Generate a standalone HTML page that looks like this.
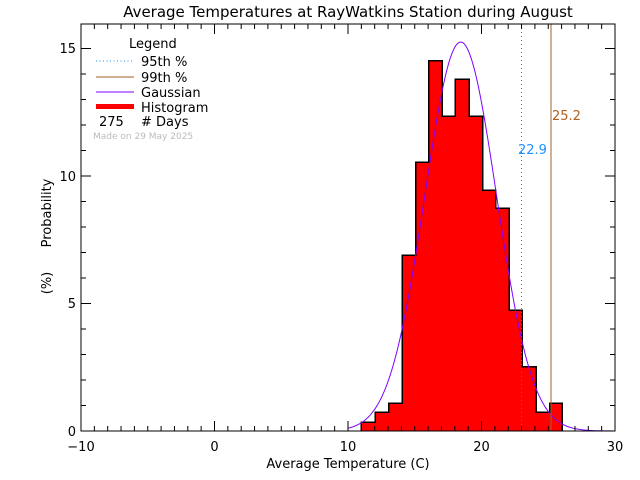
<!DOCTYPE html>
<html><head><style>
html,body{margin:0;padding:0;background:#fff;}
svg{display:block;font-family:"DejaVu Sans","Liberation Sans",sans-serif;}
</style></head><body>
<svg id="s" width="640" height="480" xmlns="http://www.w3.org/2000/svg">
<rect width="640" height="480" fill="#fff"/>
<text x="348" y="17" font-size="15" text-anchor="middle">Average Temperatures at RayWatkins Station during August</text>
<g id="bars" shape-rendering="crispEdges"></g>
<path id="gauss" fill="none" stroke="#8000ff" stroke-width="1"/>
<line x1="521.5" y1="24" x2="521.5" y2="431" stroke="#8b6a4a" stroke-width="1" stroke-dasharray="1,3"/>
<line x1="551" y1="24" x2="551" y2="431" stroke="#a0602a" stroke-width="1"/>
<text x="518" y="154" font-size="13" fill="#1e90ff">22.9</text>
<text x="552" y="120" font-size="13" fill="#b06020">25.2</text>
<g id="axes" stroke="#000" stroke-width="1" fill="none"></g>
<g font-size="13" text-anchor="middle">
<text x="81" y="451">−10</text><text x="214.5" y="451">0</text><text x="348" y="451">10</text><text x="481.5" y="451">20</text><text x="615" y="451">30</text>
</g>
<g font-size="13" text-anchor="end">
<text x="76" y="436">0</text><text x="76" y="308">5</text><text x="76" y="181">10</text><text x="76" y="53">15</text>
</g>
<text x="348" y="468" font-size="13" text-anchor="middle">Average Temperature (C)</text>
<text transform="translate(51,213) rotate(-90)" font-size="13" text-anchor="middle">Probability</text>
<text transform="translate(51,283) rotate(-90)" font-size="13" text-anchor="middle">(%)</text>
<g font-size="13">
<text x="129" y="48">Legend</text>
<line x1="96" y1="61" x2="134" y2="61" stroke="#1e90ff" stroke-dasharray="1,2.5"/>
<text x="141" y="66">95th %</text>
<line x1="96" y1="77" x2="134" y2="77" stroke="#a0602a"/>
<text x="141" y="82">99th %</text>
<line x1="96" y1="92" x2="134" y2="92" stroke="#8000ff"/>
<text x="141" y="97">Gaussian</text>
<rect x="96" y="104" width="38" height="5" fill="#f00"/>
<text x="141" y="112">Histogram</text>
<text x="99" y="126">275</text>
<text x="141" y="126"># Days</text>
<text x="93" y="139" font-size="9" fill="#bbb">Made on 29 May 2025</text>
</g>
</svg>
<script>
var NS="http://www.w3.org/2000/svg";
var edges=[361,375,388.7,402.3,415.7,428.7,442,455.3,469.3,482.7,495.7,509.3,522.3,536.3,549.7,562.3];
var tops=[422.3,412.3,403.3,255,162.3,60.7,116.3,79.3,116.3,190.3,208.3,310,366.7,412.3,403.3];
var g=document.getElementById('bars');var d="M"+edges[0]+" 431";
for(var i=0;i<tops.length;i++){var r=document.createElementNS(NS,'rect');r.setAttribute('x',edges[i]);r.setAttribute('y',tops[i]);r.setAttribute('width',edges[i+1]-edges[i]+0.6);r.setAttribute('height',431-tops[i]);r.setAttribute('fill','#f00');g.appendChild(r);
d+=" L"+edges[i]+" "+tops[i]+" L"+edges[i+1]+" "+tops[i];}
d+=" L"+edges[edges.length-1]+" 431";
var p=document.createElementNS(NS,'path');p.setAttribute('d',d);p.setAttribute('fill','none');p.setAttribute('stroke','#000');p.setAttribute('stroke-width','1.5');g.appendChild(p);
var gd="";for(var x=348;x<=615;x+=1){var y=431-389*Math.exp(-Math.pow(x-460.7,2)/(2*35.8*35.8));gd+=(x==348?"M":"L")+x+" "+y.toFixed(1)+" ";}
document.getElementById('gauss').setAttribute('d',gd);
var a=document.getElementById('axes');var s='<rect x="81" y="24" width="534" height="407"/>';
for(var v=-10;v<=30;v++){var x=81+(v+10)*13.35;var L=(v%10==0)?10:5;s+='<line x1="'+x+'" y1="431" x2="'+x+'" y2="'+(431-L)+'"/><line x1="'+x+'" y1="24" x2="'+x+'" y2="'+(24+L)+'"/>';}
for(var v=0;v<=15;v++){var y=431-v*25.5;var L=(v%5==0)?10:5;s+='<line x1="81" y1="'+y+'" x2="'+(81+L)+'" y2="'+y+'"/><line x1="615" y1="'+y+'" x2="'+(615-L)+'" y2="'+y+'"/>';}
a.innerHTML=s;
</script>
</body></html>
